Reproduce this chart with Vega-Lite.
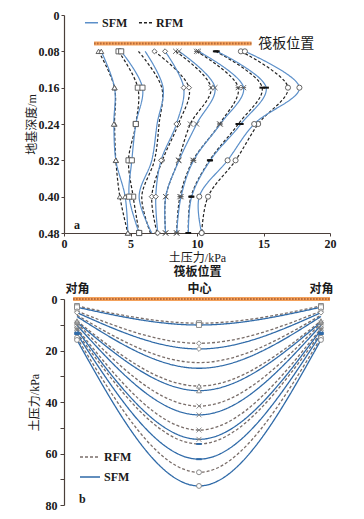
{
"$schema": "https://vega.github.io/schema/vega-lite/v6.json",
"background": "white",
"padding": {"left": 25, "top": 9, "right": 5, "bottom": 5},
"bounds": "flush",
"spacing": 66,
"config": {
  "font": "Liberation Serif, Noto Sans CJK SC",
  "view": {"stroke": null},
  "axis": {"domainColor": "#4a3f3a", "tickColor": "#4a3f3a", "labelColor": "#1a1a1a", "titleColor": "#1a1a1a", "labelFont": "Liberation Serif, Noto Sans CJK SC", "titleFont": "Liberation Serif, Noto Sans CJK SC", "labelFontSize": 12, "titleFontSize": 12, "labelFontWeight": "bold", "titleFontWeight": "normal", "grid": false, "domainWidth": 1.2, "tickWidth": 1, "labelOverlap": false},
  "legend": {"labelFont": "Liberation Serif", "labelFontSize": 12, "labelFontWeight": "bold", "labelColor": "#1a1a1a"}
},
"resolve": {"scale": {"x": "independent", "y": "independent", "color": "independent", "strokeDash": "independent", "shape": "independent"}, "legend": {"color": "independent", "strokeDash": "independent", "shape": "independent"}},
"datasets": {
"top": [
{"c":"c1","m":"RFM","d":0.08,"p":2.6},{"c":"c1","m":"RFM","d":0.16,"p":3.8},{"c":"c1","m":"RFM","d":0.24,"p":3.8},{"c":"c1","m":"RFM","d":0.32,"p":3.9},{"c":"c1","m":"RFM","d":0.40,"p":4.2},{"c":"c1","m":"RFM","d":0.48,"p":4.8},
{"c":"c1","m":"SFM","d":0.08,"p":2.8},{"c":"c1","m":"SFM","d":0.16,"p":3.8},{"c":"c1","m":"SFM","d":0.24,"p":3.75},{"c":"c1","m":"SFM","d":0.32,"p":3.9},{"c":"c1","m":"SFM","d":0.40,"p":4.6},{"c":"c1","m":"SFM","d":0.48,"p":4.8},
{"c":"c2","m":"RFM","d":0.08,"p":4.1},{"c":"c2","m":"RFM","d":0.16,"p":5.55},{"c":"c2","m":"RFM","d":0.24,"p":5.4},{"c":"c2","m":"RFM","d":0.32,"p":4.85},{"c":"c2","m":"RFM","d":0.40,"p":5.2},{"c":"c2","m":"RFM","d":0.48,"p":5.65},
{"c":"c2","m":"SFM","d":0.08,"p":4.3},{"c":"c2","m":"SFM","d":0.16,"p":5.9},{"c":"c2","m":"SFM","d":0.24,"p":5.4},{"c":"c2","m":"SFM","d":0.32,"p":5.1},{"c":"c2","m":"SFM","d":0.40,"p":4.9},{"c":"c2","m":"SFM","d":0.48,"p":5.65},
{"c":"c3","m":"RFM","d":0.08,"p":5.6},{"c":"c3","m":"RFM","d":0.16,"p":7.35},{"c":"c3","m":"RFM","d":0.24,"p":7.15},{"c":"c3","m":"RFM","d":0.32,"p":6.8},{"c":"c3","m":"RFM","d":0.40,"p":5.85},{"c":"c3","m":"RFM","d":0.48,"p":6.5},
{"c":"c3","m":"SFM","d":0.08,"p":6.1},{"c":"c3","m":"SFM","d":0.16,"p":7.45},{"c":"c3","m":"SFM","d":0.24,"p":7.0},{"c":"c3","m":"SFM","d":0.32,"p":6.6},{"c":"c3","m":"SFM","d":0.40,"p":5.65},{"c":"c3","m":"SFM","d":0.48,"p":6.6},
{"c":"c4","m":"RFM","d":0.08,"p":6.8},{"c":"c4","m":"RFM","d":0.16,"p":9.4},{"c":"c4","m":"RFM","d":0.24,"p":8.6},{"c":"c4","m":"RFM","d":0.32,"p":7.4},{"c":"c4","m":"RFM","d":0.40,"p":6.6},{"c":"c4","m":"RFM","d":0.48,"p":7.0},
{"c":"c4","m":"SFM","d":0.08,"p":7.6},{"c":"c4","m":"SFM","d":0.16,"p":9.0},{"c":"c4","m":"SFM","d":0.24,"p":8.45},{"c":"c4","m":"SFM","d":0.32,"p":7.3},{"c":"c4","m":"SFM","d":0.40,"p":6.9},{"c":"c4","m":"SFM","d":0.48,"p":7.05},
{"c":"c5","m":"RFM","d":0.08,"p":8.4},{"c":"c5","m":"RFM","d":0.16,"p":11.05},{"c":"c5","m":"RFM","d":0.24,"p":9.5},{"c":"c5","m":"RFM","d":0.32,"p":8.6},{"c":"c5","m":"RFM","d":0.40,"p":7.65},{"c":"c5","m":"RFM","d":0.48,"p":7.64},
{"c":"c5","m":"SFM","d":0.08,"p":8.65},{"c":"c5","m":"SFM","d":0.16,"p":11.35},{"c":"c5","m":"SFM","d":0.24,"p":9.97},{"c":"c5","m":"SFM","d":0.32,"p":8.65},{"c":"c5","m":"SFM","d":0.40,"p":7.65},{"c":"c5","m":"SFM","d":0.48,"p":7.64},
{"c":"c6","m":"RFM","d":0.08,"p":9.97},{"c":"c6","m":"RFM","d":0.16,"p":13.1},{"c":"c6","m":"RFM","d":0.24,"p":11.7},{"c":"c6","m":"RFM","d":0.32,"p":9.7},{"c":"c6","m":"RFM","d":0.40,"p":8.72},{"c":"c6","m":"RFM","d":0.48,"p":8.47},
{"c":"c6","m":"SFM","d":0.08,"p":10.1},{"c":"c6","m":"SFM","d":0.16,"p":13.5},{"c":"c6","m":"SFM","d":0.24,"p":11.75},{"c":"c6","m":"SFM","d":0.32,"p":9.75},{"c":"c6","m":"SFM","d":0.40,"p":8.8},{"c":"c6","m":"SFM","d":0.48,"p":8.47},
{"c":"c7","m":"RFM","d":0.08,"p":11.4},{"c":"c7","m":"RFM","d":0.16,"p":14.9},{"c":"c7","m":"RFM","d":0.24,"p":13.1},{"c":"c7","m":"RFM","d":0.32,"p":10.95},{"c":"c7","m":"RFM","d":0.40,"p":9.55},{"c":"c7","m":"RFM","d":0.48,"p":9.35},
{"c":"c7","m":"SFM","d":0.08,"p":11.5},{"c":"c7","m":"SFM","d":0.16,"p":15.2},{"c":"c7","m":"SFM","d":0.24,"p":13.3},{"c":"c7","m":"SFM","d":0.32,"p":11.0},{"c":"c7","m":"SFM","d":0.40,"p":9.6},{"c":"c7","m":"SFM","d":0.48,"p":9.35},
{"c":"c8","m":"RFM","d":0.08,"p":13.3},{"c":"c8","m":"RFM","d":0.16,"p":16.84},{"c":"c8","m":"RFM","d":0.24,"p":14.6},{"c":"c8","m":"RFM","d":0.32,"p":12.9},{"c":"c8","m":"RFM","d":0.40,"p":10.83},{"c":"c8","m":"RFM","d":0.48,"p":10.35},
{"c":"c8","m":"SFM","d":0.08,"p":13.6},{"c":"c8","m":"SFM","d":0.16,"p":17.7},{"c":"c8","m":"SFM","d":0.24,"p":14.3},{"c":"c8","m":"SFM","d":0.32,"p":12.3},{"c":"c8","m":"SFM","d":0.40,"p":10.17},{"c":"c8","m":"SFM","d":0.48,"p":10.35}
],
"bottom": [
{"c":"c1","m":"RFM","pos":0,"p":2.7},{"c":"c1","m":"RFM","pos":0.5,"p":9.4},{"c":"c1","m":"RFM","pos":1,"p":2.7},
{"c":"c1","m":"SFM","pos":0,"p":3.2},{"c":"c1","m":"SFM","pos":0.5,"p":10.1},{"c":"c1","m":"SFM","pos":1,"p":3.2},
{"c":"c2","m":"RFM","pos":0,"p":4.7},{"c":"c2","m":"RFM","pos":0.5,"p":17.2},{"c":"c2","m":"RFM","pos":1,"p":4.7},
{"c":"c2","m":"SFM","pos":0,"p":5.3},{"c":"c2","m":"SFM","pos":0.5,"p":19.4},{"c":"c2","m":"SFM","pos":1,"p":5.3},
{"c":"c3","m":"RFM","pos":0,"p":6.3},{"c":"c3","m":"RFM","pos":0.5,"p":24.7},{"c":"c3","m":"RFM","pos":1,"p":6.3},
{"c":"c3","m":"SFM","pos":0,"p":6.8},{"c":"c3","m":"SFM","pos":0.5,"p":26.9},{"c":"c3","m":"SFM","pos":1,"p":6.8},
{"c":"c4","m":"RFM","pos":0,"p":8.5},{"c":"c4","m":"RFM","pos":0.5,"p":33.8},{"c":"c4","m":"RFM","pos":1,"p":8.5},
{"c":"c4","m":"SFM","pos":0,"p":9.0},{"c":"c4","m":"SFM","pos":0.5,"p":35.6},{"c":"c4","m":"SFM","pos":1,"p":9.0},
{"c":"c5","m":"RFM","pos":0,"p":9.4},{"c":"c5","m":"RFM","pos":0.5,"p":41.6},{"c":"c5","m":"RFM","pos":1,"p":9.4},
{"c":"c5","m":"SFM","pos":0,"p":10.2},{"c":"c5","m":"SFM","pos":0.5,"p":45.0},{"c":"c5","m":"SFM","pos":1,"p":10.2},
{"c":"c6","m":"RFM","pos":0,"p":11.4},{"c":"c6","m":"RFM","pos":0.5,"p":50.9},{"c":"c6","m":"RFM","pos":1,"p":11.4},
{"c":"c6","m":"SFM","pos":0,"p":12.0},{"c":"c6","m":"SFM","pos":0.5,"p":54.5},{"c":"c6","m":"SFM","pos":1,"p":12.0},
{"c":"c7","m":"RFM","pos":0,"p":13.1},{"c":"c7","m":"RFM","pos":0.5,"p":56.3},{"c":"c7","m":"RFM","pos":1,"p":13.1},
{"c":"c7","m":"SFM","pos":0,"p":13.6},{"c":"c7","m":"SFM","pos":0.5,"p":62.2},{"c":"c7","m":"SFM","pos":1,"p":13.6},
{"c":"c8","m":"RFM","pos":0,"p":15.0},{"c":"c8","m":"RFM","pos":0.5,"p":67.3},{"c":"c8","m":"RFM","pos":1,"p":15.0},
{"c":"c8","m":"SFM","pos":0,"p":15.9},{"c":"c8","m":"SFM","pos":0.5,"p":72.6},{"c":"c8","m":"SFM","pos":1,"p":15.9}
]
},
"vconcat": [
{
  "width": 266, "height": 218,
  "layer": [
    {
      "data": {"name": "top"},
      "mark": {"type": "line", "interpolate": "catmull-rom", "strokeWidth": 1.2},
      "encoding": {
        "x": {"field": "p", "type": "quantitative", "scale": {"domain": [0, 20], "nice": false, "zero": false}, "axis": {"values": [0, 5, 10, 15, 20], "tickCount": 20, "title": "土压力/kPa", "tickSize": 3, "labelPadding": 2, "titlePadding": 3, "labelFlush": false, "labelOverlap": false}},
        "y": {"field": "d", "type": "quantitative", "scale": {"domain": [0, 0.48], "reverse": true, "nice": false, "zero": false}, "axis": {"values": [0, 0.08, 0.16, 0.24, 0.32, 0.40, 0.48], "tickCount": 20, "format": ".2f", "labelExpr": "datum.value < 0.01 ? '0' : datum.label", "title": "地基深度/m", "tickSize": 3, "labelPadding": 2, "titlePadding": 0, "labelFlush": false, "labelOverlap": false, "labelBound": false}},
        "color": {"field": "m", "type": "nominal", "scale": {"domain": ["SFM", "RFM"], "range": ["#5b8fc9", "#222222"]}, "legend": {"title": null, "orient": "none", "legendX": 20, "legendY": 0, "direction": "horizontal", "symbolType": "stroke", "symbolSize": 170, "symbolStrokeWidth": 1.4, "columnPadding": 8, "labelOffset": 3}},
        "strokeDash": {"field": "m", "type": "nominal", "scale": {"domain": ["SFM", "RFM"], "range": [[1, 0], [3, 2]]}, "legend": {"title": null, "orient": "none", "legendX": 20, "legendY": 0, "direction": "horizontal", "symbolType": "stroke", "symbolSize": 170, "symbolStrokeWidth": 1.4, "columnPadding": 8, "labelOffset": 3}},
        "detail": {"field": "c"},
        "order": {"field": "d", "type": "quantitative"}
      }
    },
    {
      "data": {"name": "top"},
      "transform": [{"filter": "datum.c != 'c3' && datum.c != 'c7'"}],
      "mark": {"type": "point", "filled": false, "fill": "white", "fillOpacity": 1, "stroke": "#555555", "strokeWidth": 0.9, "size": 26, "opacity": 1},
      "encoding": {
        "x": {"field": "p", "type": "quantitative"},
        "y": {"field": "d", "type": "quantitative"},
        "shape": {"field": "c", "type": "nominal", "scale": {"domain": ["c1", "c2", "c4", "c5", "c6", "c8"], "range": ["triangle-up", "square", "diamond", "M-1,-1L1,1M-1,1L1,-1", "M-1,-1L1,1M-1,1L1,-1M-1,0L1,0", "circle"]}, "legend": null}
      }
    },
    {
      "data": {"name": "top"},
      "transform": [{"filter": "datum.c == 'c7'"}],
      "mark": {"type": "point", "shape": "stroke", "stroke": "#111111", "strokeWidth": 2, "size": 30, "opacity": 1},
      "encoding": {
        "x": {"field": "p", "type": "quantitative"},
        "y": {"field": "d", "type": "quantitative"}
      }
    },
    {
      "data": {"values": [{}]},
      "mark": {"type": "rule", "color": "#f4a25c", "strokeWidth": 4},
      "encoding": {"x": {"datum": 2.26, "type": "quantitative"}, "x2": {"datum": 14.1}, "y": {"datum": 0.063, "type": "quantitative"}}
    },
    {
      "data": {"values": [{}]},
      "mark": {"type": "rule", "color": "#9a4e2a", "strokeWidth": 2, "strokeDash": [1.5, 1.5], "opacity": 0.7},
      "encoding": {"x": {"datum": 2.26, "type": "quantitative"}, "x2": {"datum": 14.1}, "y": {"datum": 0.063, "type": "quantitative"}}
    },
    {
      "data": {"values": [{}]},
      "mark": {"type": "text", "text": "筏板位置", "fontSize": 14, "align": "left", "baseline": "middle", "color": "#1a1a1a", "font": "Noto Sans CJK SC"},
      "encoding": {"x": {"datum": 14.6, "type": "quantitative"}, "y": {"datum": 0.063, "type": "quantitative"}}
    },
    {
      "data": {"values": [{}]},
      "mark": {"type": "text", "text": "a", "fontSize": 12, "fontWeight": "bold", "align": "left", "baseline": "middle", "color": "#1a1a1a"},
      "encoding": {"x": {"datum": 0.75, "type": "quantitative"}, "y": {"datum": 0.462, "type": "quantitative"}}
    }
  ]
},
{
  "width": 266, "height": 206,
  "layer": [
    {
      "data": {"name": "bottom"},
      "mark": {"type": "line", "interpolate": "natural", "strokeWidth": 1.3},
      "encoding": {
        "x": {"field": "pos", "type": "quantitative", "scale": {"domain": [-0.0533, 1.037], "nice": false, "zero": false}, "axis": {"orient": "top", "values": [0, 0.5, 1], "tickCount": 20, "labelExpr": "datum.value == 0.5 ? '中心' : '对角'", "domain": false, "ticks": false, "labelPadding": 4, "title": "筏板位置", "titleFontWeight": "bold", "titlePadding": 4, "labelOverlap": false}},
        "y": {"field": "p", "type": "quantitative", "scale": {"domain": [0, 80], "reverse": true, "nice": false, "zero": false}, "axis": {"values": [0, 10, 20, 30, 40, 50, 60, 70, 80], "tickCount": 20, "labelExpr": "datum.value % 20 == 0 ? datum.label : ''", "title": "土压力/kPa", "tickSize": 4, "labelPadding": 3, "titlePadding": 4, "labelFlush": false, "labelOverlap": false}},
        "color": {"field": "m", "type": "nominal", "scale": {"domain": ["RFM", "SFM"], "range": ["#7a6e6a", "#2f6aa8"]}, "legend": {"title": null, "orient": "none", "legendX": 15, "legendY": 147, "direction": "vertical", "symbolType": "stroke", "symbolSize": 400, "symbolStrokeWidth": 1.5, "labelOffset": 3, "rowPadding": 3}},
        "strokeDash": {"field": "m", "type": "nominal", "scale": {"domain": ["RFM", "SFM"], "range": [[3, 2], [1, 0]]}, "legend": {"title": null, "orient": "none", "legendX": 15, "legendY": 147, "direction": "vertical", "symbolType": "stroke", "symbolSize": 400, "symbolStrokeWidth": 1.5, "labelOffset": 3, "rowPadding": 3}},
        "detail": {"field": "c"}
      }
    },
    {
      "data": {"name": "bottom"},
      "transform": [{"filter": "datum.c != 'c3' && datum.c != 'c7'"}],
      "mark": {"type": "point", "filled": false, "fill": "white", "fillOpacity": 1, "stroke": "#808080", "strokeWidth": 0.9, "size": 24, "opacity": 1},
      "encoding": {
        "x": {"field": "pos", "type": "quantitative"},
        "y": {"field": "p", "type": "quantitative"},
        "shape": {"field": "c", "type": "nominal", "scale": {"domain": ["c1", "c2", "c4", "c5", "c6", "c8"], "range": ["square", "diamond", "triangle-up", "M-1,-1L1,1M-1,1L1,-1", "M-1,-1L1,1M-1,1L1,-1M-1,0L1,0", "circle"]}, "legend": null}
      }
    },
    {
      "data": {"name": "bottom"},
      "transform": [{"filter": "datum.c == 'c7'"}],
      "mark": {"type": "point", "shape": "stroke", "stroke": "#2f6aa8", "strokeWidth": 2, "size": 30, "opacity": 1},
      "encoding": {
        "x": {"field": "pos", "type": "quantitative"},
        "y": {"field": "p", "type": "quantitative"}
      }
    },
    {
      "data": {"values": [{}]},
      "mark": {"type": "rule", "color": "#f4a25c", "strokeWidth": 4},
      "encoding": {"x": {"datum": -0.016, "type": "quantitative"}, "x2": {"datum": 1.037}, "y": {"datum": 0, "type": "quantitative"}}
    },
    {
      "data": {"values": [{}]},
      "mark": {"type": "rule", "color": "#9a4e2a", "strokeWidth": 2, "strokeDash": [1.5, 1.5], "opacity": 0.7},
      "encoding": {"x": {"datum": -0.016, "type": "quantitative"}, "x2": {"datum": 1.037}, "y": {"datum": 0, "type": "quantitative"}}
    },
    {
      "data": {"values": [{}]},
      "mark": {"type": "text", "text": "b", "fontSize": 12, "fontWeight": "bold", "align": "left", "baseline": "middle", "color": "#1a1a1a"},
      "encoding": {"x": {"datum": 0.008, "type": "quantitative"}, "y": {"datum": 77.7, "type": "quantitative"}}
    }
  ]
}
]
}
